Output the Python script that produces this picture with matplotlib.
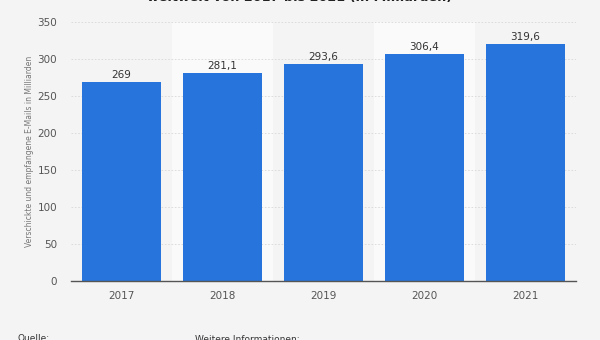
import matplotlib
matplotlib.use("Agg")
import matplotlib.pyplot as plt

years = ["2017", "2018", "2019", "2020", "2021"]
values = [269, 281.1, 293.6, 306.4, 319.6]
labels = ["269", "281,1", "293,6", "306,4", "319,6"]
yticks = [0, 50, 100, 150, 200, 250, 300, 350]

W, H = 600, 340
fig = plt.figure(figsize=(6, 3.4), dpi=100)
fig.patch.set_facecolor("#f4f4f4")
ax = fig.add_axes([71 / W, 1 - 281 / H, 505 / W, (281 - 22) / H])
ax.set_facecolor("#f4f4f4")

x = list(range(len(years)))
for i in x:
    if i % 2 == 1:
        ax.axvspan(i - 0.5, i + 0.5, color="#fafafa", zorder=0, lw=0)

ax.bar(x, values, width=0.775, color="#2775dc", zorder=3)
for i, v in enumerate(values):
    ax.text(i, v + 3, labels[i], ha="center", va="bottom", fontsize=7.5, color="#333333", zorder=4)

ax.set_xlim(-0.5, 4.5)
ax.set_ylim(0, 350)
ax.set_yticks(yticks)
ax.set_xticks(x)
ax.set_xticklabels(years)
ax.grid(axis="y", color="#d8d8d8", linestyle=(0, (2, 2)), linewidth=0.6, zorder=1)
for s in ["top", "right", "left"]:
    ax.spines[s].set_visible(False)
ax.spines["bottom"].set_color("#555555")
ax.spines["bottom"].set_linewidth(1.0)
ax.spines["bottom"].set_zorder(5)
ax.tick_params(axis="both", length=0, labelsize=7.5, labelcolor="#555555")
ax.tick_params(axis="y", pad=10)
ax.tick_params(axis="x", pad=7)
ax.set_ylabel("Verschickte und empfangene E-Mails in Milliarden", fontsize=5.5, color="#777777")
ax.yaxis.set_label_coords(-(71 - 34) / 505, 0.5)

fig.text(0.5, 1 - 1.5 / H, "weltweit von 2017 bis 2021 (in Milliarden)",
         ha="center", va="baseline", fontsize=9.2, fontweight="bold", color="#222222")
fig.text(18 / W, 1 - 334 / H, "Quelle:", ha="left", va="top", fontsize=6.5, color="#333333")
fig.text(195 / W, 1 - 335 / H, "Weitere Informationen:", ha="left", va="top", fontsize=6.5, color="#333333")

fig.savefig("out.png", dpi=100, facecolor=fig.get_facecolor())
